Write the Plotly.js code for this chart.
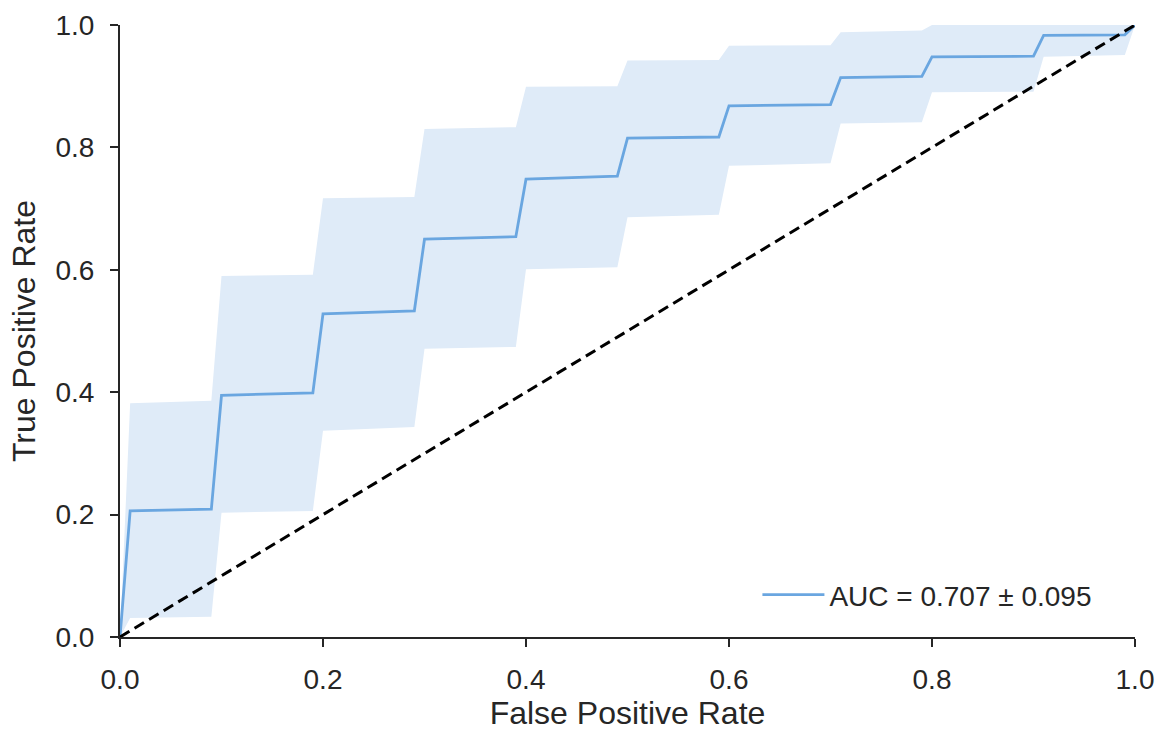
<!DOCTYPE html>
<html>
<head>
<meta charset="utf-8">
<script src="https://cdn.plot.ly/plotly-3.0.1.min.js"></script>
<style>
  html, body { margin: 0; padding: 0; background: #ffffff; }
  #chart { width: 1160px; height: 731px; }
</style>
</head>
<body>
<div id="chart"></div>
<script>
// Mean ROC curve (false positive rate grid and mean true positive rate)
const fpr      = [0, 0.01, 0.09, 0.10, 0.19, 0.20, 0.29, 0.30, 0.39, 0.40, 0.49, 0.50, 0.59, 0.60, 0.70, 0.71, 0.79, 0.80, 0.90, 0.91, 0.99, 1.0];
const tprMean  = [0, 0.206, 0.209, 0.395, 0.399, 0.528, 0.533, 0.650, 0.654, 0.748, 0.753, 0.815, 0.817, 0.868, 0.870, 0.914, 0.916, 0.948, 0.949, 0.983, 0.984, 1.0];
// ±1 std band
const tprUpper = [0, 0.382, 0.386, 0.590, 0.592, 0.717, 0.719, 0.830, 0.833, 0.899, 0.900, 0.942, 0.943, 0.966, 0.967, 0.988, 0.991, 1.0, 1.0, 1.0, 1.0, 1.0];
const tprLower = [0, 0.031, 0.033, 0.203, 0.206, 0.337, 0.343, 0.471, 0.474, 0.601, 0.604, 0.686, 0.690, 0.770, 0.774, 0.839, 0.841, 0.890, 0.891, 0.948, 0.951, 1.0];
// Chance diagonal
const chanceX = [0, 1];
const chanceY = [0, 1];
const legendLabel = 'AUC = 0.707 ± 0.095';
const xTicks = [0, 0.2, 0.4, 0.6, 0.8, 1.0];
const yTicks = [0, 0.2, 0.4, 0.6, 0.8, 1.0];
const tickText = ['0.0', '0.2', '0.4', '0.6', '0.8', '1.0'];

const lineColor = 'rgb(106,166,224)';
const bandColor = 'rgb(223,235,248)';
const inkColor = '#262626';
const fontFamily = '"Liberation Sans", Arial, sans-serif';

const traces = [
  {
    x: fpr, y: tprLower, type: 'scatter', mode: 'lines',
    line: { width: 0, color: bandColor }, showlegend: false, hoverinfo: 'skip'
  },
  {
    x: fpr, y: tprUpper, type: 'scatter', mode: 'lines',
    line: { width: 0, color: bandColor }, fill: 'tonexty', fillcolor: bandColor,
    showlegend: false, hoverinfo: 'skip'
  },
  {
    x: fpr, y: tprMean, type: 'scatter', mode: 'lines',
    line: { width: 2.8, color: lineColor }, name: legendLabel, showlegend: true
  },
  {
    x: chanceX, y: chanceY, type: 'scatter', mode: 'lines',
    line: { width: 3, color: '#000000', dash: '11px,6px' }, showlegend: false
  }
];

const axisCommon = {
  range: [0, 1],
  showgrid: false,
  zeroline: false,
  showline: true,
  linecolor: inkColor,
  linewidth: 2,
  ticks: 'outside',
  ticklen: 8,
  tickwidth: 2,
  tickcolor: inkColor,
  tickfont: { family: fontFamily, size: 28, color: inkColor },
  automargin: false,
  fixedrange: true
};

const layout = {
  width: 1160,
  height: 731,
  margin: { l: 120, r: 25, t: 25, b: 94 },
  paper_bgcolor: '#ffffff',
  plot_bgcolor: '#ffffff',
  font: { family: fontFamily, color: inkColor },
  xaxis: Object.assign({}, axisCommon, {
    tickvals: xTicks, ticktext: tickText,
    ticklabelstandoff: 8,
    title: { text: 'False Positive Rate', font: { family: fontFamily, size: 32, color: inkColor }, standoff: 12 }
  }),
  yaxis: Object.assign({}, axisCommon, {
    tickvals: yTicks, ticktext: tickText,
    ticklabelstandoff: 10,
    title: { text: 'True Positive Rate', font: { family: fontFamily, size: 32, color: inkColor }, standoff: 10 }
  }),
  legend: {
    x: 0.628, xanchor: 'left',
    y: 0.0686, yanchor: 'middle',
    itemwidth: 62,
    bgcolor: 'rgba(0,0,0,0)',
    borderwidth: 0,
    font: { family: fontFamily, size: 28, color: inkColor }
  },
  showlegend: true
};

Plotly.newPlot('chart', traces, layout, { staticPlot: true, displayModeBar: false });
</script>
</body>
</html>
